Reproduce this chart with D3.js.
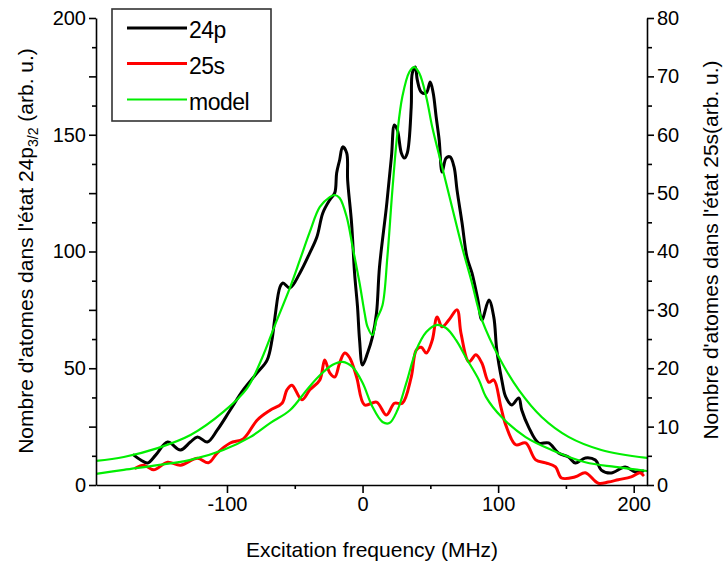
<!DOCTYPE html>
<html>
<head>
<meta charset="utf-8">
<script src="https://cdn.jsdelivr.net/npm/d3@7"></script>
<style>
  html, body { margin: 0; padding: 0; background: #fff; }
  svg { display: block; }
  text { font-family: "Liberation Sans", Arial, sans-serif; fill: #000; }
</style>
</head>
<body>
<svg id="chart" width="728" height="568"></svg>
<script>
// ---- data ----
const freq24p = [-168.7,-163.6,-158.5,-152.6,-143.8,-134.3,-127,-121.8,-114.5,-107.1,-97.6,-88,-77.8,-70.4,-66.8,-64.6,-60.9,-58.7,-53.6,-46.2,-38.9,-33.7,-29.3,-24.2,-20.5,-19.1,-16.9,-14.7,-11.7,-11.0,-8.1,-5.9,-3.7,-2.2,0,3.7,7.3,10.3,12.5,17.6,21.3,23.5,25.7,28.6,30.8,33.0,35.9,36.7,38.9,40.4,43.3,47.0,49.9,52.1,54.3,56.5,58.7,61.6,64.6,67.5,69.7,73.4,77.0,80.7,85.1,88.0,93.2,96.8,99.0,102.7,105.6,110.0,115.2,117.4,122.5,129.9,137.2,144.5,151.9,157.0,164.3,171.7,176.1,183.4,193.7,201.0,206.9];
const val24p  = [12.8,10.7,9.4,12.8,18.4,15.0,18.4,20.6,18.4,23.6,32.1,40.7,48.0,53.5,62.1,71.9,84.8,86.5,84.4,90.8,99.4,106.2,116.5,122.1,125.1,133.6,139.2,144.8,142.2,130.6,112.2,90.8,76.2,62.1,51.4,56.5,63.4,73.7,93.4,119.1,140.5,154.2,152.0,142.2,140.0,142.2,161.9,176.4,179.0,173.4,168.3,167.9,172.6,167.9,157.6,147.8,134.0,140.0,140.5,136.2,126.3,112.2,97.6,90.8,79.2,70.7,79.2,71.9,57.8,45.0,37.7,34.3,37.3,32.1,24.8,18.0,18.0,13.7,12.0,9.4,11.6,10.7,6.4,5.1,7.7,5.6,6.0];

const freq25s = [-167.3,-161.4,-154.1,-143.8,-134.3,-121.8,-113.7,-107.1,-97.6,-88.0,-77.8,-68.2,-59.4,-55.8,-52.1,-44.8,-38.9,-31.5,-27.9,-24.2,-20.5,-16.9,-13.2,-9.5,-4.4,1.5,10.3,17.6,23.5,29.3,35.9,39.6,43.3,47.0,51.4,55.0,58.7,63.8,69.7,72.6,78.5,83.6,88.0,93.2,96.8,102.0,105.6,113.0,120.3,127.7,135.0,142.3,146.7,157.0,164.3,173.9,181.2,188.6,198.1,204.7,206.9];
const val25s  = [2.9,3.4,2.6,3.9,3.4,4.6,3.8,5.5,7.2,7.9,11.1,12.8,14.0,16.3,17.1,14.6,16.3,18.0,21.4,19.2,18.5,20.9,22.6,21.8,18.5,13.7,14.2,12.0,14.0,14.0,18.5,23.1,23.6,22.6,24.8,28.8,27.1,28.3,30.0,26.0,21.1,22.3,20.9,17.6,18.0,13.4,10.3,6.9,7.2,4.3,3.8,3.1,1.2,1.4,2.1,0.3,0.5,0.9,1.4,2.1,1.7];

const freqModel24p = [-196.6,-176.1,-151.1,-126.9,-102.7,-85.1,-74.1,-64.6,-53.6,-46.2,-38.9,-31.5,-24.2,-20.5,-16.9,-11.7,-7.3,-2.2,1.5,3.7,7.3,10.3,14.7,18.3,22.0,25.7,29.3,34.5,38.2,41.8,47.0,51.4,58.7,66.0,73.4,80.7,85.1,88.0,100.5,115.2,132.1,151.9,176.1,209.8];
const valModel24p  = [10.3,12.0,15.8,21.4,31.3,41.5,54.4,68.5,84.4,96.4,108.4,119.1,123.3,124.2,122.9,114.8,101.9,86.5,73.7,67.7,64.2,70.7,77.0,97.6,126.3,150.7,166.2,176.9,179.0,176.4,166.2,153.3,136.2,119.1,101.9,86.5,76.2,70.7,54.8,40.7,29.1,20.6,15.0,11.6];

const freqModel25s = [-196.6,-176.1,-151.1,-126.9,-102.7,-82.9,-68.2,-53.6,-41.1,-31.5,-22.0,-14.7,-7.3,0,7.3,14.7,19.8,25.7,32.3,39.6,47.0,54.3,61.6,69.0,76.3,85.8,91.0,102.7,120.3,139.4,164.3,186.4,209.8];
const valModel25s  = [1.9,2.6,3.4,4.3,6.0,8.2,10.6,12.8,16.3,18.8,20.6,21.1,20.2,17.5,13.4,10.8,10.6,12.8,17.5,23.1,26.2,27.4,26.9,24.8,21.8,18.0,15.1,11.6,8.2,6.0,3.9,3.1,2.4];

const xTicks = [-100, 0, 100, 200];
const yLeftTicks = [0, 50, 100, 150, 200];
const yRightTicks = [0, 10, 20, 30, 40, 50, 60, 70, 80];
const legendLabels = ["24p", "25s", "model"];
const legendColors = ["#000000", "#ff0000", "#00ee00"];

// ---- layout ----
const svg = d3.select("#chart");
const L = 96, R = 647, T = 18, B = 485;
const x = d3.scaleLinear().domain([-196.6, 209.8]).range([L, R]);
const yL = d3.scaleLinear().domain([0, 200]).range([B, T]);
const yR = d3.scaleLinear().domain([0, 80]).range([B, T]);
const plainFmt = d => String(d);

svg.append("defs").append("clipPath").attr("id", "clip")
  .append("rect").attr("x", L).attr("y", T - 5).attr("width", R - L).attr("height", B - T + 5);

const plot = svg.append("g").attr("clip-path", "url(#clip)");

function drawLine(fs, vs, yScale, color, width) {
  const pts = fs.map((f, i) => [f, vs[i]]);
  const line = d3.line().x(d => x(d[0])).y(d => yScale(d[1])).curve(d3.curveCatmullRom.alpha(0.5));
  plot.append("path").datum(pts).attr("d", line)
    .attr("fill", "none").attr("stroke", color).attr("stroke-width", width)
    .attr("stroke-linejoin", "round").attr("stroke-linecap", "round");
}

drawLine(freq24p, val24p, yL, "#000000", 3);
drawLine(freq25s, val25s, yR, "#ff0000", 3);
drawLine(freqModel24p, valModel24p, yL, "#00ee00", 2.2);
drawLine(freqModel25s, valModel25s, yR, "#00ee00", 2.2);

// ---- axes ----
const axisW = 1.6;
const fontSize = 20;
const titleSize = 21;

// X axis
const gx = svg.append("g").attr("transform", `translate(0,${B})`);
gx.call(d3.axisBottom(x).tickValues(xTicks).tickSize(8).tickSizeOuter(0).tickFormat(plainFmt));
svg.append("g").attr("transform", `translate(0,${B})`)
  .call(d3.axisBottom(x).tickValues([-150, -50, 50, 150]).tickSize(4).tickFormat(""))
  .select(".domain").remove();

// Left axis
const gl = svg.append("g").attr("transform", `translate(${L},0)`);
gl.call(d3.axisLeft(yL).tickValues(yLeftTicks).tickSize(7).tickSizeOuter(0).tickFormat(plainFmt));
svg.append("g").attr("transform", `translate(${L},0)`)
  .call(d3.axisLeft(yL).tickValues([25, 75, 125, 175]).tickSize(7).tickFormat(""))
  .select(".domain").remove();
svg.append("g").attr("transform", `translate(${L},0)`)
  .call(d3.axisLeft(yL).tickValues(d3.range(12.5, 200, 25)).tickSize(4).tickFormat(""))
  .select(".domain").remove();

// Right axis
const gr = svg.append("g").attr("transform", `translate(${R},0)`);
gr.call(d3.axisRight(yR).tickValues(yRightTicks).tickSize(7).tickSizeOuter(0).tickFormat(plainFmt));
svg.append("g").attr("transform", `translate(${R},0)`)
  .call(d3.axisRight(yR).tickValues(d3.range(5, 80, 10)).tickSize(5).tickFormat(""))
  .select(".domain").remove();

svg.selectAll(".domain, .tick line").attr("stroke", "#000").attr("stroke-width", axisW);
svg.selectAll(".tick text").attr("font-size", fontSize).attr("fill", "#000")
  .attr("font-family", "'Liberation Sans', Arial, sans-serif");
gx.selectAll(".tick text").attr("dy", "0.71em").attr("y", 12);
gl.selectAll(".tick text").attr("x", -10);
gr.selectAll(".tick text").attr("x", 10);

// Axis titles
svg.append("text").attr("x", 372).attr("y", 557).attr("text-anchor", "middle")
  .attr("font-size", titleSize).text("Excitation frequency (MHz)");

const lt = svg.append("text").attr("transform", "translate(33,251) rotate(-90)")
  .attr("text-anchor", "middle").attr("font-size", titleSize);
lt.append("tspan").text("Nombre d'atomes dans l'état 24p");
lt.append("tspan").attr("font-size", 14).attr("dy", 5).text("3/2");
lt.append("tspan").attr("dy", -5).text(" (arb. u.)");

svg.append("text").attr("transform", "translate(718,250) rotate(-90)")
  .attr("text-anchor", "middle").attr("font-size", titleSize)
  .text("Nombre d'atomes dans l'état 25s(arb. u.)");

// Legend
const lg = svg.append("g");
lg.append("rect").attr("x", 112).attr("y", 9).attr("width", 159).attr("height", 112)
  .attr("fill", "#fff").attr("stroke", "#333").attr("stroke-width", 1.6);
const legY = [28, 63.5, 99.5];
legendLabels.forEach((lab, i) => {
  lg.append("line").attr("x1", 127).attr("x2", 187).attr("y1", legY[i]).attr("y2", legY[i])
    .attr("stroke", legendColors[i]).attr("stroke-width", i === 2 ? 2.2 : 3);
  lg.append("text").attr("x", 189).attr("y", legY[i] + 10).attr("font-size", 23)
    .attr("letter-spacing", -0.5).text(lab);
});
</script>
</body>
</html>
